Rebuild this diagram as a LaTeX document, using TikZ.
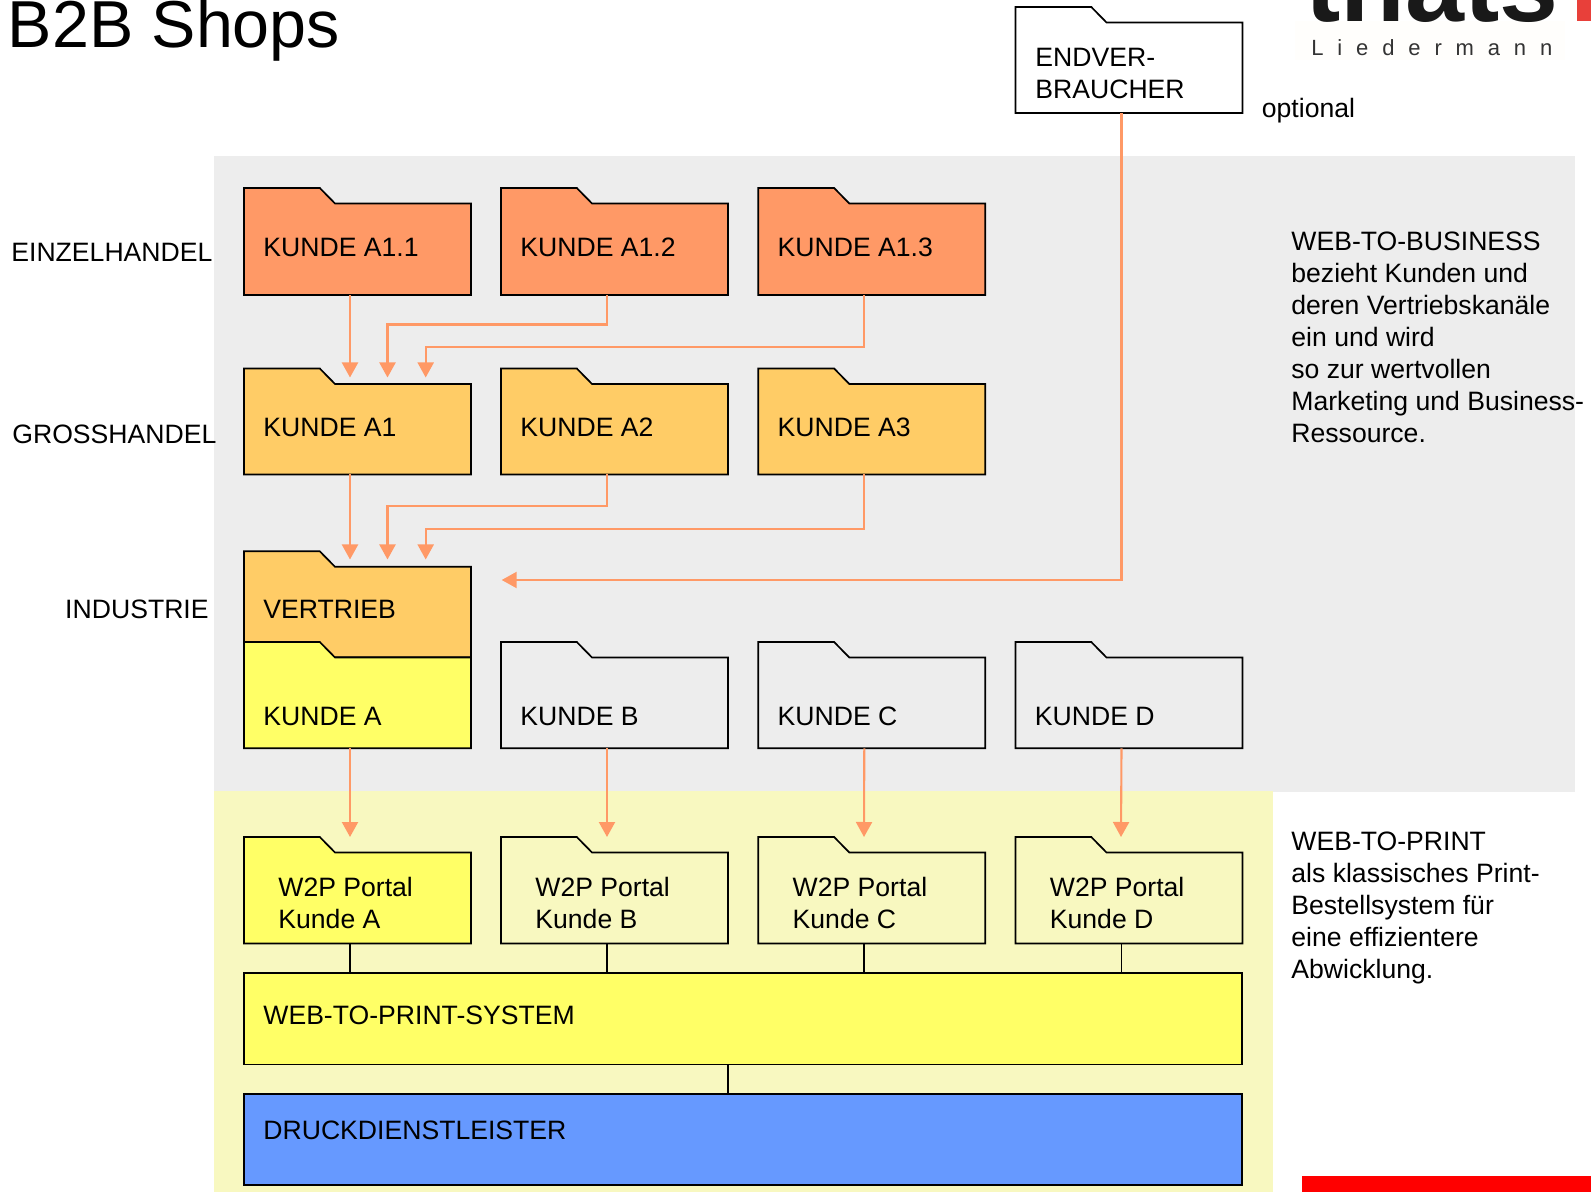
\documentclass[tikz,border=0pt]{standalone}
\usepackage{fontspec}
\setmainfont{Liberation Sans}
\usetikzlibrary{arrows.meta}
\definecolor{cOrange}{HTML}{FF9966}
\definecolor{cAmber}{HTML}{FFCC66}
\definecolor{cYellow}{HTML}{FFFF66}
\definecolor{cGrey}{HTML}{EDEDED}
\definecolor{cPale}{HTML}{F8F8C0}
\definecolor{cBlue}{HTML}{6699FF}
\definecolor{cLogoRed}{HTML}{E8403A}
\definecolor{cLogoBg}{HTML}{FFFEFC}
\tikzset{
  x=0.5pt,y=-0.5pt,
  folderline/.style={draw=black,line width=0.85pt,line join=miter},
  ghost/.style={draw=none,inner sep=0,outer sep=0,anchor=north west},
  lbl/.style={inner sep=0,anchor=base west,font=\fontsize{13.3}{16}\selectfont,align=left},
  lblr/.style={inner sep=0,anchor=base east,font=\fontsize{13.3}{16}\selectfont},
  para/.style={inner sep=0,anchor=north west,font=\fontsize{13.3}{16}\selectfont,align=left},
  conn/.style={draw=cOrange,line width=1.05pt,-{Triangle[length=7.5pt,width=8pt,fill=cOrange]}},
  tie/.style={draw=black,line width=0.85pt},
  barbox/.style={draw=black,line width=0.85pt,inner sep=0,outer sep=0,anchor=north west,minimum width=499pt},
}
% name, x, ytop, ybottom, fill, baseline, label x offset, label
\newcommand{\folder}[8]{%
  \path[folderline,fill=#5] (#2,#3) -- (#2+75.8,#3) -- (#2+91,#3+15.5) -- (#2+227,#3+15.5)
    -- (#2+227,#4) -- (#2,#4) -- cycle;
  \pgfmathsetlengthmacro{\fh}{(#4-#3)*0.5pt}
  \node[ghost,minimum width=113.5pt,minimum height=\fh] (#1) at (#2,#3) {};
  \coordinate (#1-out) at (#2+106,#4);
  \node[lbl] (#1-text) at (#2+#7,#6) {#8};
}
\begin{document}
\begin{tikzpicture}
\useasboundingbox (0,0) rectangle (1591,1192);
% backgrounds
\fill[cGrey] (214,156) rectangle (1575,792);
\fill[cPale] (214,791) rectangle (1273,1192);
\fill[red] (1302,1176) rectangle (1591,1192);
% logo
\fill[cLogoBg] (1295,21) rectangle (1565,60);
\fill[cLogoRed] (1577,0) rectangle (1591,21);
\node[inner sep=0,anchor=base west,font=\fontsize{53}{53}\selectfont\bfseries,text=black!90] (logo) at (1305,21.5) {thats};
\node[inner sep=0,anchor=base west,font=\fontsize{11}{13}\selectfont\addfontfeature{LetterSpace=63},text=black!80] (logosub) at (1311,55.5) {Liedermann};
% title
\node[inner sep=0,anchor=base west,font=\fontsize{33.2}{36}\selectfont] (title) at (7.5,48) {B2B Shops};
% side labels
\node[lbl] (einzel) at (11,262) {EINZELHANDEL};
\node[lbl] (gross) at (12,443.5) {GROSSHANDEL};
\node[lblr] (indu) at (209,618.5) {INDUSTRIE};
\node[lbl] (opt) at (1261.5,118) {optional};
\node[para] (w2b) at (1291,232) {WEB-TO-BUSINESS\\bezieht Kunden und\\deren Vertriebskanäle\\ein und wird\\so zur wertvollen\\Marketing und Business-\\Ressource.};
\node[para] (w2p) at (1291,831.5) {WEB-TO-PRINT\\als klassisches Print-\\Bestellsystem für\\eine effizientere\\Abwicklung.};
% folders
\folder{end}{1015.5}{7}{113}{white}{66.5}{19.5}{ENDVER-}
\node[lbl] (end-text2) at (1035,98.5) {BRAUCHER};
\folder{a11}{244}{188}{295}{cOrange}{256.5}{19}{KUNDE A1.1}
\folder{a12}{501}{188}{295}{cOrange}{256.5}{19}{KUNDE A1.2}
\folder{a13}{758.3}{188}{295}{cOrange}{256.5}{19}{KUNDE A1.3}
\folder{a1}{244}{368.5}{474.5}{cAmber}{436.5}{19}{KUNDE A1}
\folder{a2}{501}{368.5}{474.5}{cAmber}{436.5}{19}{KUNDE A2}
\folder{a3}{758.3}{368.5}{474.5}{cAmber}{436.5}{19}{KUNDE A3}
\folder{vert}{244}{551.3}{657.3}{cAmber}{618.5}{19}{VERTRIEB}
\folder{ka}{244}{642}{748.3}{cYellow}{725}{19}{KUNDE A}
\folder{kb}{501}{642}{748.3}{cGrey}{725}{19}{KUNDE B}
\folder{kc}{758.3}{642}{748.3}{cGrey}{725}{19}{KUNDE C}
\folder{kd}{1015.5}{642}{748.3}{cGrey}{725}{19}{KUNDE D}
\folder{pa}{244}{837}{943.5}{cYellow}{896}{34}{W2P Portal}
\folder{pb}{501}{837}{943.5}{cPale}{896}{34}{W2P Portal}
\folder{pc}{758.3}{837}{943.5}{cPale}{896}{34}{W2P Portal}
\folder{pd}{1015.5}{837}{943.5}{cPale}{896}{34}{W2P Portal}
\node[lbl] (pa-text2) at (278,928) {Kunde A};
\node[lbl] (pb-text2) at (535,928) {Kunde B};
\node[lbl] (pc-text2) at (792.3,928) {Kunde C};
\node[lbl] (pd-text2) at (1049.5,928) {Kunde D};
% bars
\node[barbox,fill=cYellow,minimum height=45.7pt] (sys) at (244,973) {};
\node[lbl] (sys-text) at (263,1024) {WEB-TO-PRINT-SYSTEM};
\node[barbox,fill=cBlue,minimum height=45.5pt] (druck) at (244,1094) {};
\node[lbl] (druck-text) at (263,1139) {DRUCKDIENSTLEISTER};
% arrow targets
\coordinate (a1-t1) at (350,377.5);
\coordinate (a1-t2) at (387.5,377.5);
\coordinate (a1-t3) at (425.7,377.5);
\coordinate (a1-r2) at (387.5,324.5);
\coordinate (a1-r3) at (425.7,347.3);
\coordinate (v-t1) at (350,559.5);
\coordinate (v-t2) at (387.5,559.5);
\coordinate (v-t3) at (425.7,559.5);
\coordinate (v-r2) at (387.5,506);
\coordinate (v-r3) at (425.7,529);
\coordinate (v-t4) at (501.7,580);
\coordinate (pa-in) at (350,837);
\coordinate (pb-in) at (607,837);
\coordinate (pc-in) at (864,837);
\coordinate (pd-in) at (1121,837);
\coordinate (sys-out) at (728,1064.4);
% orange connectors
\draw[conn] (a11-out) -- (a1-t1);
\draw[conn] (a12-out) |- (a1-r2) -- (a1-t2);
\draw[conn] (a13-out) |- (a1-r3) -- (a1-t3);
\draw[conn] (a1-out) -- (v-t1);
\draw[conn] (a2-out) |- (v-r2) -- (v-t2);
\draw[conn] (a3-out) |- (v-r3) -- (v-t3);
\draw[conn] (end-out) |- (v-t4);
\draw[conn] (ka-out) -- (pa-in);
\draw[conn] (kb-out) -- (pb-in);
\draw[conn] (kc-out) -- (pc-in);
\draw[conn] (kd-out) -- (pd-in);
% black ties
\draw[tie] (pa-out) -- (pa-out |- sys.north);
\draw[tie] (pb-out) -- (pb-out |- sys.north);
\draw[tie] (pc-out) -- (pc-out |- sys.north);
\draw[tie] (pd-out) -- (pd-out |- sys.north);
\draw[tie] (sys-out) -- (sys-out |- druck.north);
\end{tikzpicture}
\end{document}
